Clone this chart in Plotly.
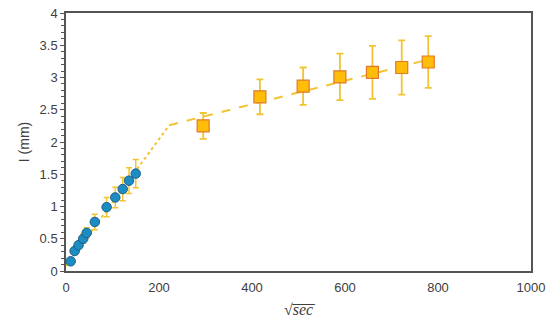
import plotly.graph_objects as go

# Early-time data (blue circles)
x_early = [10, 18.6, 27, 37, 44.5, 62, 87.4, 106, 122, 135.5, 150]
y_early = [0.15, 0.31, 0.40, 0.50, 0.59, 0.76, 0.99, 1.14, 1.27, 1.40, 1.51]
err_early = [0.03, 0.04, 0.05, 0.07, 0.08, 0.12, 0.15, 0.16, 0.18, 0.20, 0.22]

# Late-time data (orange squares)
x_late = [295, 417, 510, 589, 659, 722, 779]
y_late = [2.25, 2.70, 2.865, 3.01, 3.08, 3.155, 3.24]
err_late = [0.20, 0.27, 0.29, 0.36, 0.41, 0.42, 0.40]

# Fit lines
x_fit1 = [0, 222]
y_fit1 = [0.08, 2.26]
x_fit2 = [222, 775]
y_fit2 = [2.26, 3.27]

x_ticks = [0, 200, 400, 600, 800, 1000]
y_ticks = [0, 0.5, 1, 1.5, 2, 2.5, 3, 3.5, 4]
y_ticklabels = ["0", "0.5", "1", "1.5", "2", "2.5", "3", "3.5", "4"]

gold = "#f2c431"
fig = go.Figure()
fig.add_trace(go.Scatter(x=x_fit1, y=y_fit1, mode="lines",
                         line=dict(color=gold, width=2, dash="dot"), hoverinfo="skip"))
fig.add_trace(go.Scatter(x=x_fit2, y=y_fit2, mode="lines",
                         line=dict(color=gold, width=2, dash="dash"), hoverinfo="skip"))
fig.add_trace(go.Scatter(x=x_early, y=y_early, mode="markers",
                         marker=dict(symbol="circle", size=9.5, color="#1c8dc2",
                                     line=dict(color="#1e5f86", width=1)),
                         error_y=dict(type="data", array=err_early, color=gold,
                                      thickness=1.5, width=3)))
fig.add_trace(go.Scatter(x=x_late, y=y_late, mode="markers",
                         marker=dict(symbol="square", size=12, color="#ffbd0a",
                                     line=dict(color="#e07a2a", width=1.2)),
                         error_y=dict(type="data", array=err_late, color=gold,
                                      thickness=1.8, width=3.5)))

fig.update_layout(
    width=549, height=323,
    margin=dict(l=66, r=18, t=13, b=52, autoexpand=False),
    paper_bgcolor="white", plot_bgcolor="white",
    showlegend=False,
    font=dict(family="Liberation Sans, Arial, sans-serif", size=13, color="#404040"),
)
fig.update_xaxes(range=[0, 1000], tickvals=x_ticks, ticks="", showgrid=False,
                 zeroline=False, showline=True, linecolor="#555555", linewidth=1.5,
                 mirror=True, automargin=False, ticklabelstandoff=4,
                 title=dict(text="√<i>s̅e̅c̅</i>", standoff=9,
                            font=dict(family="Liberation Serif, DejaVu Serif, serif", size=16)))
fig.update_yaxes(range=[0, 4], tickvals=y_ticks, ticktext=y_ticklabels, ticks="outside",
                 ticklen=4, tickcolor="#555555", showgrid=False, zeroline=False,
                 showline=True, linecolor="#555555", linewidth=1.5, mirror=True,
                 automargin=False,
                 minor=dict(dtick=0.1, ticks="outside", ticklen=3, tickcolor="#555555"),
                 title=dict(text="I (mm)", standoff=7, font=dict(size=14)))

fig.write_html("out.html")
